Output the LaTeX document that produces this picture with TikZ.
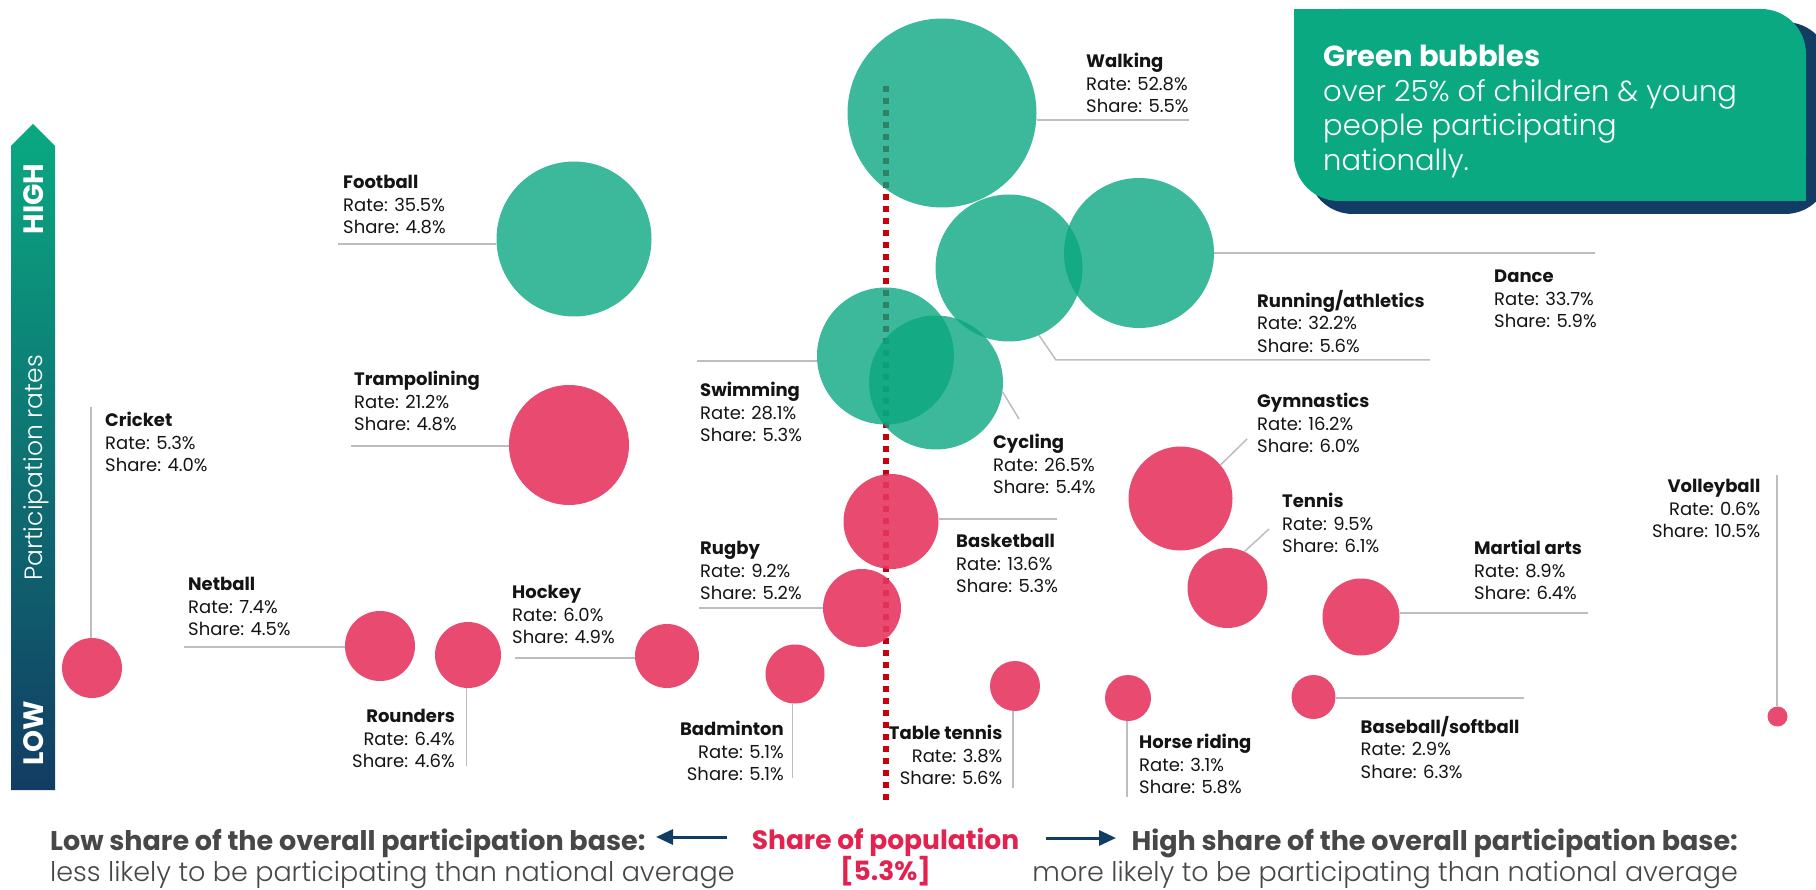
\documentclass[tikz,border=0pt]{standalone}
\usepackage{fontspec}
\setmainfont{Poppins}
\newfontfamily\poplight{Poppins Light}
\usetikzlibrary{arrows.meta}

\definecolor{bubgreen}{HTML}{07A67E}
\definecolor{bubpink}{HTML}{E5375F}
\definecolor{boxgreen}{HTML}{0AA982}
\definecolor{navy}{HTML}{123C63}
\definecolor{avgred}{HTML}{C4000F}
\definecolor{popred}{HTML}{E3224F}
\definecolor{leadgray}{HTML}{BDBDBD}
\definecolor{basegray}{HTML}{474747}
\definecolor{labelblack}{HTML}{141414}

\tikzset{
  gbub/.style={circle, inner sep=0pt, fill=bubgreen, fill opacity=0.785},
  pbub/.style={circle, inner sep=0pt, fill=bubpink, fill opacity=0.9},
  leader/.style={draw=leadgray, line width=1.5pt},
  lbl/.style={inner sep=0pt, anchor=north west, align=left, text=labelblack,
    font=\fontsize{18}{22.5}\selectfont},
  lblr/.style={lbl, anchor=north east, align=right},
  basetext/.style={inner sep=0pt, text=basegray, font=\fontsize{27}{31}\selectfont},
  axistext/.style={rotate=90, anchor=base, inner sep=0pt, text=white},
  sidearrow/.style={draw=navy, line width=3pt, -{Triangle[length=17pt,width=15pt]}},
}

\begin{document}
\begin{tikzpicture}[x=1pt,y=-1pt]
\useasboundingbox (0,0) rectangle (1816,890);

% key box
\fill[navy, rounded corners=45pt] (1308,22) rectangle (1830,214);
\fill[navy] (1308,22) rectangle (1360,70);
\fill[boxgreen, rounded corners=45pt] (1294,9) rectangle (1806,201);
\fill[boxgreen] (1294,9) rectangle (1350,60);
\fill[boxgreen] (1750,150) rectangle (1806,201);
\node[inner sep=0pt, anchor=north west, align=left, text=white,
  font=\fontsize{29}{34.5}\selectfont] (keytext) at (1323,45)
  {\textbf{Green bubbles}\\{\poplight over 25\% of children \& young}\\{\poplight people participating}\\{\poplight nationally.}};

% participation axis
\shade[top color=boxgreen, middle color=teal!70!navy, bottom color=navy]
  (11,790) -- (11,146) -- (33,124) -- (55,146) -- (55,790) -- cycle;
\node[axistext, font=\fontsize{28}{28}\selectfont\bfseries] (high) at (43.5,199) {HIGH};
\node[axistext, font=\fontsize{25}{25}\poplight] (ratesaxis) at (42,468) {Participation rates};
\node[axistext, font=\fontsize{28}{28}\selectfont\bfseries] (low) at (43.5,733.5) {LOW};

% national average share
\coordinate (avgtop) at (886,86);
\coordinate (avgbot) at (886,802);
\draw[avgred, line width=6pt, dash pattern=on 6pt off 6pt] (avgtop) -- (avgbot);

% bubbles
\node[gbub, minimum size=189pt] (walking) at (942,113) {};
\node[gbub, minimum size=155pt] (football) at (574,239) {};
\node[gbub, minimum size=147pt] (running) at (1009,268) {};
\node[gbub, minimum size=150pt] (dance) at (1139,253) {};
\node[gbub, minimum size=137pt] (swimming) at (885.5,356) {};
\node[gbub, minimum size=134pt] (cycling) at (936,382.5) {};
\node[pbub, minimum size=120pt] (trampolining) at (569,445) {};
\node[pbub, minimum size=60pt] (cricket) at (92,668) {};
\node[pbub, minimum size=70pt] (netball) at (380,646) {};
\node[pbub, minimum size=66pt] (rounders) at (468,655) {};
\node[pbub, minimum size=64pt] (hockey) at (667,656) {};
\node[pbub, minimum size=95pt] (basketball) at (891,521.5) {};
\node[pbub, minimum size=78pt] (rugby) at (862,608) {};
\node[pbub, minimum size=59pt] (badminton) at (795,674) {};
\node[pbub, minimum size=50pt] (tabletennis) at (1015,686) {};
\node[pbub, minimum size=46pt] (horseriding) at (1128,698) {};
\node[pbub, minimum size=104pt] (gymnastics) at (1180.5,498.5) {};
\node[pbub, minimum size=80pt] (tennis) at (1227.5,588) {};
\node[pbub, minimum size=77pt] (martialarts) at (1361,617) {};
\node[pbub, minimum size=44pt] (baseball) at (1313.5,697) {};
\node[pbub, minimum size=20pt] (volleyball) at (1777.5,716.5) {};

% leader ends
\coordinate (walkingL) at (1189,120);
\coordinate (footballL) at (338,244);
\coordinate (runningK) at (1056,360);
\coordinate (runningL) at (1430,360);
\coordinate (danceL) at (1595,253);
\coordinate (swimmingL) at (697,361);
\coordinate (cyclingL) at (1019,419);
\coordinate (trampoliningL) at (351,446);
\coordinate (cricketL) at (91,407);
\coordinate (netballL) at (184,647);
\coordinate (roundersL) at (466.5,766);
\coordinate (hockeyL) at (515,658);
\coordinate (basketballL) at (1057,519);
\coordinate (rugbyL) at (699,608);
\coordinate (badmintonL) at (792.5,778);
\coordinate (tabletennisL) at (1013,788);
\coordinate (horseridingL) at (1127,797);
\coordinate (gymnasticsL) at (1247,439);
\coordinate (tennisL) at (1269,529);
\coordinate (martialartsL) at (1587.5,613);
\coordinate (baseballL) at (1524,698);
\coordinate (volleyballL) at (1777,475);

% leaders
\draw[leader] (walking.east |- walkingL) -- (walkingL);
\draw[leader] (football.west |- footballL) -- (footballL);
\draw[leader] (running.-66) -- (runningK) -- (runningL);
\draw[leader] (dance.east |- danceL) -- (danceL);
\draw[leader] (swimming.west |- swimmingL) -- (swimmingL);
\draw[leader] (cycling.-8) -- (cyclingL);
\draw[leader] (trampolining.west |- trampoliningL) -- (trampoliningL);
\draw[leader] (cricket.north -| cricketL) -- (cricketL);
\draw[leader] (netball.west |- netballL) -- (netballL);
\draw[leader] (rounders.south -| roundersL) -- (roundersL);
\draw[leader] (hockey.west |- hockeyL) -- (hockeyL);
\draw[leader] (basketball.east |- basketballL) -- (basketballL);
\draw[leader] (rugby.west |- rugbyL) -- (rugbyL);
\draw[leader] (badminton.south -| badmintonL) -- (badmintonL);
\draw[leader] (tabletennis.south -| tabletennisL) -- (tabletennisL);
\draw[leader] (horseriding.south -| horseridingL) -- (horseridingL);
\draw[leader] (gymnastics.40) -- (gymnasticsL);
\draw[leader] (tennis.65) -- (tennisL);
\draw[leader] (martialarts.east |- martialartsL) -- (martialartsL);
\draw[leader] (baseball.east |- baseballL) -- (baseballL);
\draw[leader] (volleyball.north -| volleyballL) -- (volleyballL);

% labels
\node[lbl] (walkingT) at (1086,53) {\textbf{Walking}\\Rate: 52.8\%\\Share: 5.5\%};
\node[lbl] (footballT) at (343,175) {\textbf{Football}\\Rate: 35.5\%\\Share: 4.8\%};
\node[lbl] (runningT) at (1257,290) {\textbf{Running/athletics}\\Rate: 32.2\%\\Share: 5.6\%};
\node[lbl] (danceT) at (1494,270) {\textbf{Dance}\\Rate: 33.7\%\\Share: 5.9\%};
\node[lbl] (swimmingT) at (700,382) {\textbf{Swimming}\\Rate: 28.1\%\\Share: 5.3\%};
\node[lbl] (cyclingT) at (993,434) {\textbf{Cycling}\\Rate: 26.5\%\\Share: 5.4\%};
\node[lbl] (trampoliningT) at (354,371) {\textbf{Trampolining}\\Rate: 21.2\%\\Share: 4.8\%};
\node[lbl] (cricketT) at (105,412) {\textbf{Cricket}\\Rate: 5.3\%\\Share: 4.0\%};
\node[lbl] (netballT) at (188,577) {\textbf{Netball}\\Rate: 7.4\%\\Share: 4.5\%};
\node[lblr] (roundersT) at (455,709) {\textbf{Rounders}\\Rate: 6.4\%\\Share: 4.6\%};
\node[lbl] (hockeyT) at (512,585) {\textbf{Hockey}\\Rate: 6.0\%\\Share: 4.9\%};
\node[lbl] (basketballT) at (956,534) {\textbf{Basketball}\\Rate: 13.6\%\\Share: 5.3\%};
\node[lbl] (rugbyT) at (700,541) {\textbf{Rugby}\\Rate: 9.2\%\\Share: 5.2\%};
\node[lblr] (badmintonT) at (784,721) {\textbf{Badminton}\\Rate: 5.1\%\\Share: 5.1\%};
\node[lblr] (tabletennisT) at (1002.5,725) {\textbf{Table tennis}\\Rate: 3.8\%\\Share: 5.6\%};
\node[lbl] (horseridingT) at (1139,734) {\textbf{Horse riding}\\Rate: 3.1\%\\Share: 5.8\%};
\node[lbl] (gymnasticsT) at (1257,393) {\textbf{Gymnastics}\\Rate: 16.2\%\\Share: 6.0\%};
\node[lbl] (tennisT) at (1282,493) {\textbf{Tennis}\\Rate: 9.5\%\\Share: 6.1\%};
\node[lbl] (martialartsT) at (1474,540) {\textbf{Martial arts}\\Rate: 8.9\%\\Share: 6.4\%};
\node[lbl] (baseballT) at (1360.5,716) {\textbf{Baseball/softball}\\Rate: 2.9\%\\Share: 6.3\%};
\node[lblr] (volleyballT) at (1760.5,479) {\textbf{Volleyball}\\Rate: 0.6\%\\Share: 10.5\%};

% share axis
\node[basetext, anchor=north west, align=left] (lowshare) at (50,829)
  {\textbf{Low share of the overall participation base:}\\{\poplight less likely to be participating than national average}};
\node[basetext, anchor=north east, align=right] (highshare) at (1738,829)
  {\textbf{High share of the overall participation base:}\\{\poplight more likely to be participating than national average}};
\node[basetext, anchor=north, align=center, text=popred, font=\fontsize{26.5}{31.5}\selectfont\bfseries]
  (population) at (885.5,828) {Share of population\\{[5.3\%]}};
\coordinate (leftS) at (727,837);
\coordinate (leftE) at (656,837);
\coordinate (rightS) at (1046,838);
\coordinate (rightE) at (1116,838);
\draw[sidearrow] (leftS) -- (leftE);
\draw[sidearrow] (rightS) -- (rightE);
\end{tikzpicture}
\end{document}
